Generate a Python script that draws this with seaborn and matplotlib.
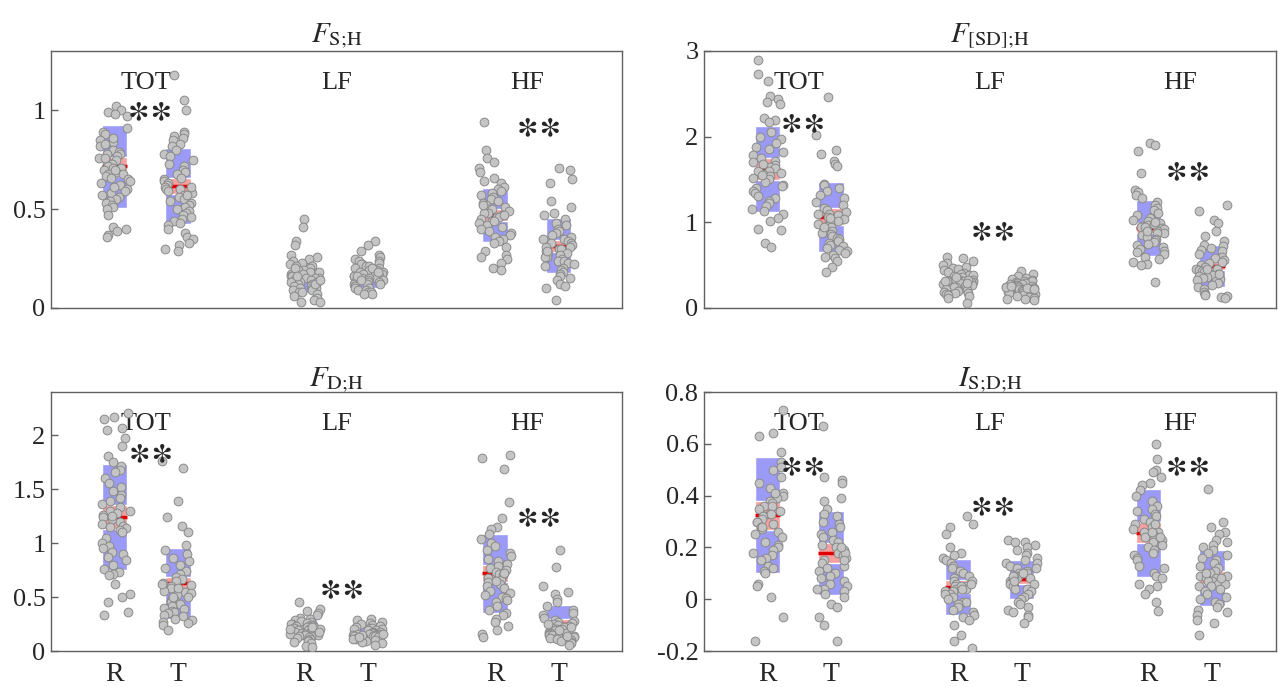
import numpy as np
import pandas as pd
import matplotlib
matplotlib.use("Agg")
import matplotlib.pyplot as plt
import seaborn as sns

# ── Groupes : R / T pour TOT, LF, HF ────────────────────────────────────────
groups = ["TOT R", "TOT T", "LF R", "LF T", "HF R", "HF T"]
positions = [1, 2, 4, 5, 7, 8]
band_ticks = [1.5, 4.5, 7.5]
band_names = ["TOT", "LF", "HF"]
rt_labels = ["R", "T", "R", "T", "R", "T"]

# ── F_S;H ───────────────────────────────────────────────────────────────────
fs_mean = [0.716, 0.617, 0.155, 0.165, 0.47, 0.315]
fs_sd = [0.208, 0.19, 0.078, 0.065, 0.138, 0.138]
fs_ci = [0.05, 0.04, 0.018, 0.015, 0.03, 0.03]
fs_pts = [
    [1.02, 1.0, 0.99, 0.98, 0.97, 0.91, 0.89, 0.88, 0.85, 0.84, 0.82, 0.8, 0.79, 0.78, 0.78, 0.77, 0.76, 0.75,
     0.74, 0.73, 0.72, 0.71, 0.71, 0.7, 0.69, 0.68, 0.68, 0.67, 0.66, 0.65, 0.64, 0.62, 0.6, 0.59, 0.58, 0.57,
     0.56, 0.55, 0.54, 0.53, 0.52, 0.51, 0.5, 0.47, 0.41, 0.40, 0.39, 0.37, 0.36, 0.86, 0.83, 0.76, 0.7, 0.63, 0.61],
    [1.18, 1.05, 1.0, 0.89, 0.88, 0.87, 0.86, 0.85, 0.83, 0.82, 0.8, 0.78, 0.77, 0.75, 0.73, 0.72, 0.7, 0.69,
     0.68, 0.66, 0.65, 0.64, 0.63, 0.62, 0.61, 0.6, 0.6, 0.59, 0.58, 0.57, 0.56, 0.55, 0.54, 0.53, 0.52, 0.51,
     0.5, 0.49, 0.48, 0.47, 0.46, 0.45, 0.44, 0.43, 0.42, 0.4, 0.38, 0.36, 0.35, 0.33, 0.32, 0.3, 0.29, 0.61, 0.57],
    [0.45, 0.41, 0.34, 0.32, 0.27, 0.26, 0.25, 0.24, 0.23, 0.22, 0.21, 0.21, 0.2, 0.19, 0.19, 0.18, 0.18, 0.17,
     0.17, 0.16, 0.16, 0.15, 0.15, 0.15, 0.14, 0.14, 0.14, 0.13, 0.13, 0.13, 0.12, 0.12, 0.12, 0.11, 0.11, 0.1,
     0.1, 0.1, 0.09, 0.09, 0.08, 0.08, 0.07, 0.06, 0.05, 0.04, 0.03, 0.03, 0.2, 0.16, 0.12, 0.14],
    [0.34, 0.32, 0.29, 0.27, 0.26, 0.25, 0.24, 0.24, 0.23, 0.22, 0.22, 0.21, 0.21, 0.2, 0.2, 0.19, 0.19, 0.18,
     0.18, 0.18, 0.17, 0.17, 0.17, 0.16, 0.16, 0.16, 0.15, 0.15, 0.15, 0.14, 0.14, 0.14, 0.13, 0.13, 0.13, 0.12,
     0.12, 0.12, 0.11, 0.11, 0.1, 0.1, 0.09, 0.09, 0.08, 0.08, 0.07, 0.07, 0.2, 0.16, 0.14, 0.18],
    [0.94, 0.8, 0.76, 0.74, 0.71, 0.69, 0.66, 0.64, 0.63, 0.61, 0.6, 0.59, 0.58, 0.57, 0.56, 0.55, 0.54, 0.53,
     0.52, 0.51, 0.5, 0.5, 0.49, 0.48, 0.48, 0.47, 0.46, 0.46, 0.45, 0.44, 0.43, 0.42, 0.41, 0.4, 0.39, 0.38,
     0.37, 0.36, 0.35, 0.34, 0.33, 0.31, 0.29, 0.27, 0.26, 0.25, 0.23, 0.2, 0.19, 0.44, 0.47, 0.52],
    [0.71, 0.7, 0.65, 0.63, 0.54, 0.51, 0.48, 0.47, 0.45, 0.43, 0.42, 0.4, 0.39, 0.38, 0.37, 0.36, 0.35, 0.34,
     0.33, 0.33, 0.32, 0.31, 0.3, 0.3, 0.29, 0.28, 0.28, 0.27, 0.26, 0.26, 0.25, 0.24, 0.24, 0.23, 0.22, 0.21,
     0.2, 0.19, 0.18, 0.17, 0.16, 0.15, 0.14, 0.12, 0.11, 0.1, 0.04, 0.31, 0.29, 0.35],
]

# ── F_[SD];H ────────────────────────────────────────────────────────────────
fsd_mean = [1.62, 1.065, 0.32, 0.24, 0.935, 0.49]
fsd_sd = [0.505, 0.41, 0.14, 0.08, 0.33, 0.24]
fsd_ci = [0.13, 0.1, 0.03, 0.02, 0.06, 0.05]
fsd_pts = [
    [2.9, 2.73, 2.65, 2.48, 2.44, 2.41, 2.38, 2.22, 2.19, 2.17, 2.05, 2.0, 1.97, 1.92, 1.88, 1.85, 1.82, 1.78,
     1.75, 1.72, 1.7, 1.67, 1.65, 1.63, 1.6, 1.58, 1.56, 1.54, 1.52, 1.5, 1.47, 1.44, 1.42, 1.4, 1.37, 1.34,
     1.31, 1.28, 1.25, 1.22, 1.19, 1.16, 1.13, 1.1, 1.05, 1.02, 0.92, 0.91, 0.76, 0.71, 1.6, 1.55, 1.68],
    [2.46, 2.02, 1.84, 1.8, 1.71, 1.68, 1.66, 1.45, 1.44, 1.4, 1.36, 1.32, 1.28, 1.24, 1.2, 1.17, 1.14, 1.12,
     1.1, 1.08, 1.06, 1.04, 1.02, 1.0, 0.98, 0.96, 0.94, 0.92, 0.9, 0.88, 0.86, 0.84, 0.82, 0.8, 0.78, 0.76,
     0.74, 0.72, 0.7, 0.68, 0.66, 0.64, 0.62, 0.6, 0.58, 0.55, 0.48, 0.42, 1.05, 1.1, 0.95],
    [0.6, 0.58, 0.55, 0.52, 0.5, 0.48, 0.47, 0.45, 0.44, 0.42, 0.41, 0.4, 0.39, 0.38, 0.37, 0.36, 0.35, 0.34,
     0.34, 0.33, 0.32, 0.32, 0.31, 0.3, 0.3, 0.29, 0.28, 0.28, 0.27, 0.26, 0.25, 0.24, 0.23, 0.22, 0.21, 0.2,
     0.19, 0.18, 0.17, 0.16, 0.15, 0.14, 0.12, 0.06, 0.33, 0.31, 0.36, 0.29],
    [0.43, 0.4, 0.37, 0.35, 0.34, 0.33, 0.32, 0.31, 0.3, 0.29, 0.29, 0.28, 0.28, 0.27, 0.27, 0.26, 0.26, 0.25,
     0.25, 0.24, 0.24, 0.24, 0.23, 0.23, 0.22, 0.22, 0.21, 0.21, 0.2, 0.2, 0.19, 0.19, 0.18, 0.17, 0.16, 0.15,
     0.14, 0.13, 0.12, 0.11, 0.1, 0.09, 0.25, 0.23, 0.22, 0.26],
    [1.93, 1.9, 1.83, 1.58, 1.38, 1.35, 1.32, 1.28, 1.24, 1.2, 1.17, 1.14, 1.11, 1.08, 1.05, 1.03, 1.01, 0.99,
     0.97, 0.96, 0.95, 0.94, 0.93, 0.92, 0.9, 0.88, 0.87, 0.85, 0.83, 0.81, 0.79, 0.77, 0.75, 0.73, 0.71, 0.69,
     0.67, 0.65, 0.63, 0.6, 0.57, 0.54, 0.51, 0.5, 0.3, 0.98, 0.9, 1.0],
    [1.2, 1.13, 1.03, 0.99, 0.9, 0.84, 0.78, 0.74, 0.72, 0.7, 0.68, 0.66, 0.63, 0.6, 0.58, 0.56, 0.54, 0.52,
     0.5, 0.48, 0.46, 0.45, 0.44, 0.43, 0.42, 0.41, 0.4, 0.39, 0.38, 0.37, 0.36, 0.35, 0.34, 0.33, 0.31, 0.29,
     0.27, 0.25, 0.22, 0.19, 0.16, 0.15, 0.14, 0.13, 0.12, 0.4, 0.45],
]

# ── F_D;H ───────────────────────────────────────────────────────────────────
fd_mean = [1.243, 0.628, 0.2, 0.16, 0.72, 0.25]
fd_sd = [0.49, 0.33, 0.1, 0.06, 0.365, 0.175]
fd_ci = [0.11, 0.06, 0.02, 0.015, 0.08, 0.045]
fd_pts = [
    [2.21, 2.17, 2.15, 2.07, 2.05, 1.97, 1.9, 1.81, 1.75, 1.71, 1.68, 1.66, 1.6, 1.56, 1.52, 1.48, 1.45, 1.42,
     1.39, 1.36, 1.33, 1.3, 1.28, 1.26, 1.24, 1.22, 1.2, 1.18, 1.16, 1.14, 1.12, 1.1, 1.05, 1.0, 0.97, 0.95,
     0.92, 0.9, 0.87, 0.84, 0.8, 0.76, 0.73, 0.71, 0.7, 0.62, 0.53, 0.5, 0.45, 0.36, 0.33, 1.25, 1.15, 1.3],
    [1.76, 1.7, 1.39, 1.24, 1.16, 1.1, 0.98, 0.94, 0.9, 0.86, 0.83, 0.8, 0.77, 0.74, 0.71, 0.69, 0.67, 0.65,
     0.63, 0.61, 0.6, 0.58, 0.56, 0.55, 0.54, 0.52, 0.5, 0.49, 0.48, 0.46, 0.45, 0.44, 0.42, 0.4, 0.39, 0.37,
     0.36, 0.35, 0.33, 0.32, 0.3, 0.29, 0.27, 0.26, 0.24, 0.19, 0.62, 0.58, 0.5],
    [0.45, 0.39, 0.37, 0.35, 0.33, 0.31, 0.3, 0.29, 0.28, 0.27, 0.26, 0.25, 0.25, 0.24, 0.24, 0.23, 0.23, 0.22,
     0.22, 0.21, 0.21, 0.2, 0.2, 0.19, 0.19, 0.18, 0.18, 0.17, 0.17, 0.16, 0.16, 0.15, 0.15, 0.14, 0.14, 0.13,
     0.12, 0.11, 0.1, 0.09, 0.08, 0.07, 0.05, 0.04, 0.2, 0.22, 0.18],
    [0.3, 0.29, 0.27, 0.26, 0.25, 0.24, 0.23, 0.22, 0.21, 0.21, 0.2, 0.2, 0.19, 0.19, 0.18, 0.18, 0.17, 0.17,
     0.17, 0.16, 0.16, 0.16, 0.15, 0.15, 0.15, 0.14, 0.14, 0.14, 0.13, 0.13, 0.12, 0.12, 0.11, 0.11, 0.1, 0.1,
     0.09, 0.08, 0.07, 0.06, 0.16, 0.15, 0.13],
    [1.82, 1.79, 1.69, 1.38, 1.23, 1.15, 1.13, 1.08, 1.04, 1.0, 0.97, 0.94, 0.91, 0.88, 0.85, 0.83, 0.81, 0.79,
     0.77, 0.75, 0.73, 0.71, 0.7, 0.68, 0.66, 0.64, 0.62, 0.6, 0.58, 0.56, 0.54, 0.52, 0.5, 0.49, 0.47, 0.45,
     0.42, 0.38, 0.35, 0.33, 0.3, 0.27, 0.23, 0.19, 0.16, 0.13, 0.72, 0.65],
    [0.94, 0.78, 0.6, 0.55, 0.53, 0.48, 0.45, 0.42, 0.38, 0.35, 0.33, 0.31, 0.29, 0.28, 0.27, 0.26, 0.25, 0.24,
     0.23, 0.22, 0.21, 0.2, 0.2, 0.19, 0.18, 0.17, 0.17, 0.16, 0.15, 0.15, 0.14, 0.13, 0.13, 0.12, 0.11, 0.1,
     0.09, 0.08, 0.07, 0.06, 0.22, 0.19, 0.25, 0.14],
]

# ── I_S;D;H ─────────────────────────────────────────────────────────────────
isd_mean = [0.324, 0.178, 0.048, 0.077, 0.257, 0.082]
isd_sd = [0.224, 0.163, 0.109, 0.076, 0.17, 0.108]
isd_ci = [0.055, 0.04, 0.025, 0.018, 0.04, 0.025]
isd_pts = [
    [0.73, 0.64, 0.63, 0.57, 0.53, 0.51, 0.5, 0.47, 0.45, 0.43, 0.41, 0.4, 0.39, 0.38, 0.37, 0.36, 0.35, 0.34,
     0.33, 0.32, 0.31, 0.3, 0.3, 0.29, 0.28, 0.27, 0.26, 0.25, 0.24, 0.22, 0.21, 0.2, 0.19, 0.18, 0.17, 0.16,
     0.15, 0.13, 0.12, 0.11, 0.1, 0.06, 0.05, 0.01, -0.07, -0.16, 0.36, 0.33, 0.41, 0.28],
    [0.67, 0.47, 0.46, 0.45, 0.39, 0.38, 0.35, 0.33, 0.32, 0.3, 0.29, 0.28, 0.26, 0.25, 0.24, 0.23, 0.22, 0.21,
     0.2, 0.19, 0.18, 0.17, 0.16, 0.15, 0.14, 0.13, 0.12, 0.11, 0.1, 0.09, 0.08, 0.07, 0.06, 0.05, 0.04, 0.04,
     0.03, 0.02, 0.01, -0.02, -0.03, -0.07, -0.1, -0.16, 0.18, 0.2, 0.15],
    [0.32, 0.29, 0.28, 0.25, 0.2, 0.18, 0.17, 0.16, 0.15, 0.14, 0.13, 0.12, 0.11, 0.1, 0.09, 0.08, 0.07, 0.07,
     0.06, 0.05, 0.05, 0.04, 0.04, 0.03, 0.03, 0.02, 0.02, 0.01, 0.0, -0.01, -0.01, -0.02, -0.03, -0.04, -0.05,
     -0.06, -0.07, -0.08, -0.1, -0.14, -0.16, -0.19, 0.05, 0.06, 0.04],
    [0.23, 0.22, 0.22, 0.21, 0.2, 0.19, 0.18, 0.17, 0.16, 0.15, 0.14, 0.14, 0.13, 0.12, 0.12, 0.11, 0.1, 0.1,
     0.09, 0.09, 0.08, 0.08, 0.07, 0.07, 0.06, 0.06, 0.05, 0.05, 0.04, 0.04, 0.03, 0.02, 0.01, 0.0, -0.01, -0.02,
     -0.03, -0.04, -0.05, -0.06, -0.07, -0.09, 0.08, 0.09, 0.1, 0.07],
    [0.6, 0.54, 0.5, 0.49, 0.47, 0.45, 0.44, 0.42, 0.4, 0.38, 0.36, 0.35, 0.34, 0.33, 0.32, 0.31, 0.3, 0.29,
     0.28, 0.27, 0.26, 0.26, 0.25, 0.24, 0.23, 0.22, 0.21, 0.2, 0.19, 0.18, 0.17, 0.16, 0.15, 0.13, 0.12, 0.1,
     0.09, 0.08, 0.06, 0.05, 0.04, 0.02, -0.01, -0.045, 0.26, 0.29, 0.24],
    [0.425, 0.3, 0.28, 0.26, 0.25, 0.23, 0.22, 0.21, 0.2, 0.19, 0.18, 0.17, 0.16, 0.15, 0.14, 0.13, 0.12, 0.11,
     0.1, 0.09, 0.09, 0.08, 0.08, 0.07, 0.07, 0.06, 0.06, 0.05, 0.05, 0.04, 0.03, 0.02, 0.01, 0.0, -0.01, -0.02,
     -0.03, -0.04, -0.05, -0.06, -0.08, -0.09, -0.14, 0.1, 0.08],
]

# ── Astérisques (position x, y en données) ──────────────────────────────────
fs_stars = [(1.57, 0.99), (7.70, 0.91)]
fsd_stars = [(1.56, 2.15), (4.56, 0.89), (7.62, 1.59)]
fd_stars = [(1.58, 1.83), (4.59, 0.57), (7.70, 1.23)]
isd_stars = [(1.56, 0.51), (4.56, 0.356), (7.62, 0.51)]

panels = [
    dict(title=r"$F_{\mathrm{S;\!H}}$", mean=fs_mean, sd=fs_sd, ci=fs_ci, pts=fs_pts,
         ylim=(0, 1.3), yticks=[0, 0.5, 1], stars=fs_stars, rect=[0.0399, 0.5517, 0.4464, 0.3741], bottom=False),
    dict(title=r"$F_{\mathrm{[SD];\!H}}$", mean=fsd_mean, sd=fsd_sd, ci=fsd_ci, pts=fsd_pts,
         ylim=(0, 3), yticks=[0, 1, 2, 3], stars=fsd_stars, rect=[0.5504, 0.5517, 0.4470, 0.3741], bottom=False),
    dict(title=r"$F_{\mathrm{D;\!H}}$", mean=fd_mean, sd=fd_sd, ci=fd_ci, pts=fd_pts,
         ylim=(0, 2.4), yticks=[0, 0.5, 1, 1.5, 2], stars=fd_stars, rect=[0.0399, 0.0524, 0.4464, 0.3770], bottom=True),
    dict(title=r"$I_{\mathrm{S;\!D;\!H}}$", mean=isd_mean, sd=isd_sd, ci=isd_ci, pts=isd_pts,
         ylim=(-0.2, 0.8), yticks=[-0.2, 0, 0.2, 0.4, 0.6, 0.8], stars=isd_stars,
         rect=[0.5504, 0.0524, 0.4470, 0.3770], bottom=True),
]

sns.set_theme(style="white")
plt.rcParams["font.family"] = ["Liberation Serif", "DejaVu Serif"]
plt.rcParams["mathtext.fontset"] = "stix"

BLUE = "#9b9bf7"
PINK = "#f7a0a0"
RED = "#e00000"
SPINE = "#606060"

np.random.seed(3)
fig = plt.figure(figsize=(12.79, 6.87), dpi=100)

for p in panels:
    ax = fig.add_axes(p["rect"])
    mean = np.array(p["mean"])
    sd = np.array(p["sd"])
    ci = np.array(p["ci"])

    ax.bar(positions, 2 * sd, bottom=mean - sd, width=0.4, color=BLUE, zorder=1)
    ax.bar(positions, 2 * ci, bottom=mean - ci, width=0.4, color=PINK, zorder=2)
    ax.hlines(mean, np.array(positions) - 0.2, np.array(positions) + 0.2, color=RED, lw=2.5, zorder=3)

    rows = [(pos, v) for pos, vals in zip(positions, p["pts"]) for v in vals]
    df = pd.DataFrame(rows, columns=["pos", "value"])
    sns.stripplot(data=df, x="pos", y="value", native_scale=True, jitter=0.25,
                  color="#c4c4c4", edgecolor="#8a8a8a", linewidth=0.7, size=6.3,
                  ax=ax, zorder=4)

    ax.set_xlim(0, 9)
    ax.set_ylim(*p["ylim"])
    ax.set_yticks(p["yticks"])
    ax.set_yticklabels([f"{t:g}" for t in p["yticks"]], fontsize=19)
    ax.set_xlabel("")
    ax.set_ylabel("")

    ax.set_xticks(positions)
    ax.set_xticklabels(rt_labels if p["bottom"] else [""] * 6, fontsize=20)
    ax.set_xticks(band_ticks, minor=True)
    ax.tick_params(axis="x", which="major", length=0, pad=8)
    ax.tick_params(axis="x", which="minor", direction="in", length=7, width=1, color=SPINE)
    ax.tick_params(axis="y", direction="in", length=5, width=1, color=SPINE, pad=4, left=True)

    for s in ax.spines.values():
        s.set_color(SPINE)
        s.set_linewidth(1)

    for x, name in zip(band_ticks, band_names):
        ax.text(x, 0.875, name, transform=ax.get_xaxis_transform(), ha="center", va="center", fontsize=19)
    for x, y in p["stars"]:
        ax.text(x, y, "\u2217\u2217", family=["STIXGeneral", "DejaVu Serif"], weight="bold",
                ha="center", va="center", fontsize=29, zorder=5)

    ax.set_title(p["title"], fontsize=21, pad=4)

fig.savefig("out.png", dpi=100)
